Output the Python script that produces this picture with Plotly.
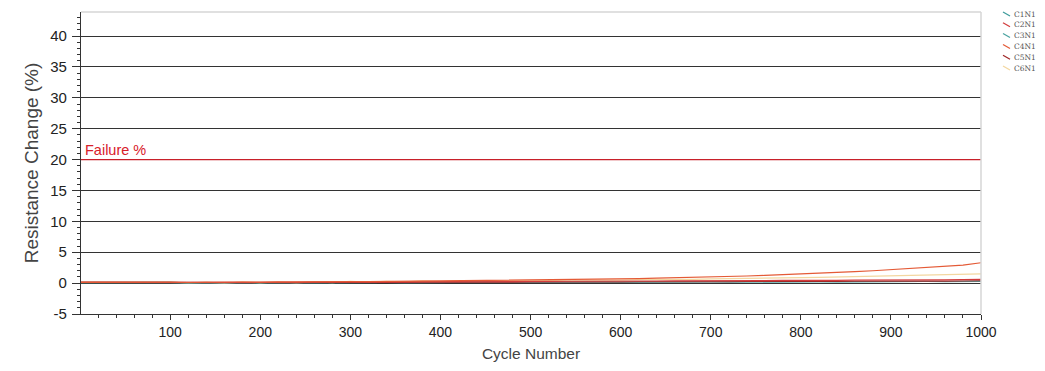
import plotly.graph_objects as go

cycles = [1] + list(range(20, 1001, 20))

series_names = ["C1N1", "C2N1", "C3N1", "C4N1", "C5N1", "C6N1"]

c1n1 = [0.10,0.12,0.11,0.10,0.12,0.11, 0.05,0.08,0.06,0.10,0.07,0.09,0.08,0.11,0.09,0.12,
        0.10,0.13,0.11,0.14,0.12,0.15,0.13,0.16,0.14,0.17, 0.15,0.18,0.16,0.19,0.17,0.20,0.18,0.21,0.19,0.22,
        0.20,0.23,0.21,0.24,0.22,0.25,0.23,0.26,0.24,0.27, 0.25,0.28,0.26,0.29,0.30]
c2n1 = [0.15,0.14,0.16,0.15,0.17,0.16, 0.08,0.12,0.10,0.14,0.11,0.15,0.13,0.16,0.14,0.18,
        0.17,0.20,0.18,0.22,0.20,0.24,0.22,0.26,0.25,0.28, 0.27,0.30,0.29,0.33,0.31,0.35,0.34,0.37,0.36,0.40,
        0.38,0.42,0.40,0.44,0.42,0.46,0.45,0.48,0.47,0.50, 0.49,0.52,0.51,0.55,0.60]
c3n1 = [0.08,0.10,0.09,0.11,0.10,0.09, 0.03,0.06,0.04,0.08,0.05,0.07,0.06,0.09,0.07,0.10,
        0.08,0.11,0.09,0.12,0.10,0.13,0.11,0.14,0.12,0.15, 0.13,0.16,0.14,0.17,0.15,0.18,0.16,0.19,0.17,0.20,
        0.18,0.21,0.19,0.22,0.20,0.23,0.21,0.24,0.22,0.25, 0.23,0.26,0.24,0.27,0.28]
c4n1 = [0.10,0.12,0.11,0.13,0.12,0.14, 0.10,0.15,0.12,0.18,0.16,0.20,0.18,0.22,0.20,0.24,
        0.25,0.28,0.26,0.32,0.30,0.36,0.38,0.42,0.40,0.46, 0.50,0.55,0.58,0.62,0.68,0.72,0.80,0.85,0.92,1.00,
        1.08,1.15,1.25,1.35,1.45,1.60,1.70,1.85,2.00,2.20, 2.40,2.60,2.75,2.90,3.30]
c5n1 = [0.12,0.11,0.13,0.12,0.11,0.13, 0.06,0.09,0.07,0.11,0.08,0.10,0.09,0.12,0.10,0.13,
        0.11,0.14,0.12,0.15,0.13,0.16,0.14,0.17,0.15,0.18, 0.16,0.19,0.17,0.20,0.18,0.22,0.20,0.23,0.21,0.24,
        0.22,0.26,0.24,0.27,0.25,0.29,0.27,0.30,0.28,0.32, 0.30,0.33,0.31,0.34,0.38]
c6n1 = [0.20,0.22,0.18,0.24,0.20,0.22, 0.00,0.15,-0.05,0.20,0.05,0.22,0.02,0.25,0.08,0.28,
        0.15,0.30,0.20,0.35,0.25,0.38,0.30,0.42,0.36,0.45, 0.42,0.48,0.46,0.52,0.50,0.56,0.55,0.60,0.62,0.68,
        0.70,0.74,0.78,0.82,0.88,0.92,0.98,1.02,1.08,1.14, 1.20,1.26,1.32,1.40,1.50]

failure_level = 20
failure_x = [1, 1000]

x_tick_vals = [100, 200, 300, 400, 500, 600, 700, 800, 900, 1000]
y_tick_vals = [-5, 0, 5, 10, 15, 20, 25, 30, 35, 40]
y_tick_text = ["-5", "0", "5", "10", "15", "20", "25", "30", "35", "40"]

series_values = [c1n1, c2n1, c3n1, c4n1, c5n1, c6n1]
colors = ["#3d9b9b", "#d23c3c", "#4aa3a0", "#e45a36", "#a02828", "#f3d7a0"]
draw_order = [5, 0, 2, 4, 1, 3]

fig = go.Figure()
fig.add_trace(go.Scatter(x=failure_x, y=[failure_level, failure_level], mode="lines",
                         line=dict(color="#c8202a", width=1.3), showlegend=False, hoverinfo="skip"))

for i in draw_order:
    fig.add_trace(go.Scatter(x=cycles, y=series_values[i], mode="lines", name=series_names[i],
                             line=dict(color=colors[i], width=1.2), showlegend=False))

font_family = "Liberation Sans, Arial, sans-serif"

# page body has an 8px margin, so figure is sized/placed to compensate
W, H = 1037, 363
ml, mr, mt, mb = 73, 64, 4, 57
pw = W - ml - mr
ph = H - mt - mb

# compact legend (small diagonal stroke + label), as in the reference
legend_shapes = []
legend_annots = []
for i, name in enumerate(series_names):
    yc = 1 - (i * 10.8 + 2) / ph
    x0 = 1 + 22 / pw
    legend_shapes.append(dict(type="line", xref="paper", yref="paper",
                              x0=x0, x1=x0 + 7 / pw, y0=yc + 2 / ph, y1=yc - 2 / ph,
                              line=dict(color=colors[i], width=1.2)))
    legend_annots.append(dict(x=x0 + 9 / pw, y=yc, xref="paper", yref="paper", text=name,
                              showarrow=False, xanchor="left", yanchor="middle",
                              font=dict(size=7.5, color="#555", family="DejaVu Serif, serif")))

fig.update_layout(
    width=W, height=H,
    margin=dict(l=ml, r=mr, t=mt, b=mb, autoexpand=False),
    paper_bgcolor="white", plot_bgcolor="white",
    font=dict(family=font_family, color="#333"),
    showlegend=False,
    xaxis=dict(range=[1, 1000], tickvals=x_tick_vals,
               showgrid=False, zeroline=False, showline=True, linecolor="#333", linewidth=1.2,
               ticks="outside", ticklen=5, tickcolor="#333", tickfont=dict(size=14, color="#222"),
               minor=dict(dtick=20, tick0=0, ticks="outside", ticklen=3, tickcolor="#333"),
               title=dict(text="Cycle Number", font=dict(size=15.5, color="#444"), standoff=9)),
    yaxis=dict(range=[-5, 43.9], tickvals=y_tick_vals, ticktext=y_tick_text,
               showgrid=True, gridcolor="#333", gridwidth=1.3, zeroline=False,
               showline=True, linecolor="#333", linewidth=1.2,
               ticks="outside", ticklen=8, tickcolor="#333", tickfont=dict(size=15, color="#222"),
               ticklabelstandoff=2,
               minor=dict(dtick=1, tick0=0, ticks="outside", ticklen=3, tickcolor="#333", showgrid=False),
               title=dict(text="Resistance Change (%)", font=dict(size=19, color="#444"), standoff=6)),
    annotations=[dict(x=1, y=failure_level, xref="x", yref="y", text="Failure %", showarrow=False,
                      xanchor="left", yanchor="bottom", xshift=2, yshift=0,
                      font=dict(size=14.5, color="#d8202a"))] + legend_annots,
    shapes=[dict(type="line", xref="paper", yref="paper", x0=0, x1=1, y0=1, y1=1,
                 line=dict(color="#d6d6d6", width=1.5)),
            dict(type="line", xref="paper", yref="paper", x0=1, x1=1, y0=0, y1=1,
                 line=dict(color="#d6d6d6", width=1.5))] + legend_shapes,
)

fig.write_html("out.html")
